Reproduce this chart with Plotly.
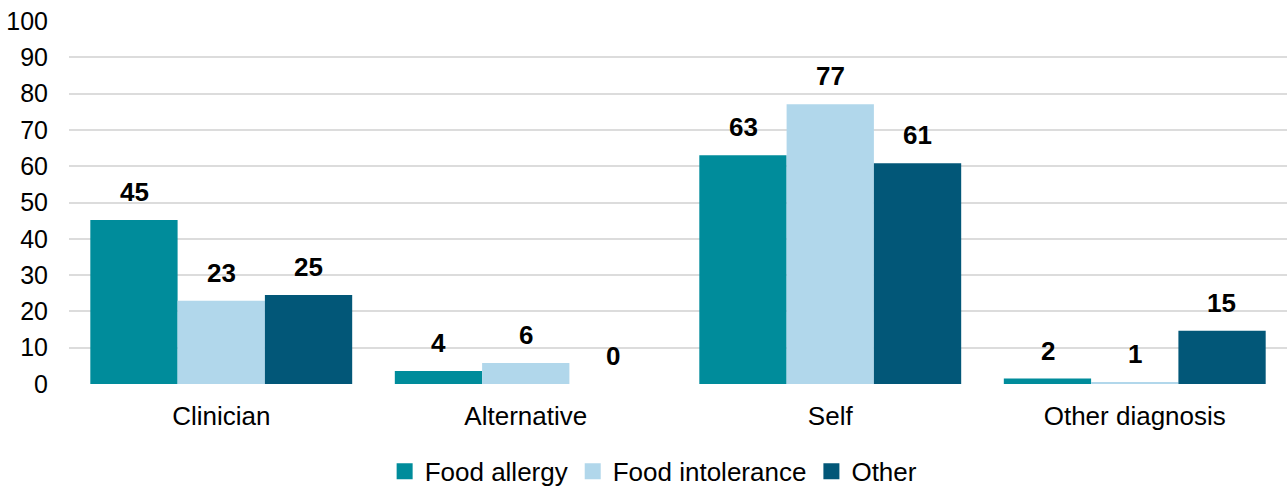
import plotly.graph_objects as go

categories = ["Clinician", "Alternative", "Self", "Other diagnosis"]
series_names = ["Food allergy", "Food intolerance", "Other"]
food_allergy = [45.2, 3.6, 63.0, 1.5]
food_intolerance = [22.9, 5.8, 77.1, 0.5]
other = [24.5, 0.0, 60.8, 14.7]
food_allergy_labels = ["45", "4", "63", "2"]
food_intolerance_labels = ["23", "6", "77", "1"]
other_labels = ["25", "0", "61", "15"]
y_ticks = [0, 10, 20, 30, 40, 50, 60, 70, 80, 90, 100]

colors = ["#008C9B", "#B1D7EB", "#025778"]
FONT = "Liberation Sans, Arial, Helvetica, sans-serif"

fig = go.Figure()
all_vals = [food_allergy, food_intolerance, other]
all_labels = [food_allergy_labels, food_intolerance_labels, other_labels]
for name, vals, col in zip(series_names, all_vals, colors):
    fig.add_trace(go.Bar(x=categories, y=vals, name=name, marker=dict(color=col, line=dict(width=0)),
                         showlegend=False, hoverinfo="x+y"))
    fig.add_trace(go.Scatter(x=[None], y=[None], mode="markers", name=name,
                             marker=dict(symbol="square", size=16, color=col)))

bar_px = 87.2
shifts = [-bar_px, 0, bar_px]
for vals, labs, sh in zip(all_vals, all_labels, shifts):
    for c, v, t in zip(categories, vals, labs):
        fig.add_annotation(x=c, y=v, text=f"<b>{t}</b>", showarrow=False, xshift=sh, yshift=28,
                           yanchor="middle", font=dict(size=26, color="black", family=FONT))

fig.update_layout(
    width=1288, height=491,
    margin=dict(l=69, r=1, t=21, b=107, autoexpand=False),
    paper_bgcolor="white", plot_bgcolor="white",
    barmode="group", bargap=0.14, bargroupgap=0,
    font=dict(family=FONT, color="black", size=25),
    legend=dict(orientation="h", x=0.48, xanchor="center", yref="container", y=0.04, yanchor="middle",
                font=dict(size=26, family=FONT), itemwidth=30, tracegroupgap=0),
    xaxis=dict(showgrid=False, showline=False, zeroline=False, ticks="",
               tickfont=dict(size=26, family=FONT), ticklabelstandoff=14),
    yaxis=dict(range=[0, 100], tickvals=y_ticks, showgrid=True, gridcolor="#dcdcdc", gridwidth=2,
               zeroline=False, showline=False, ticks="", ticklabelstandoff=20,
               tickfont=dict(size=25, family=FONT)),
)

fig.write_html("out.html")
